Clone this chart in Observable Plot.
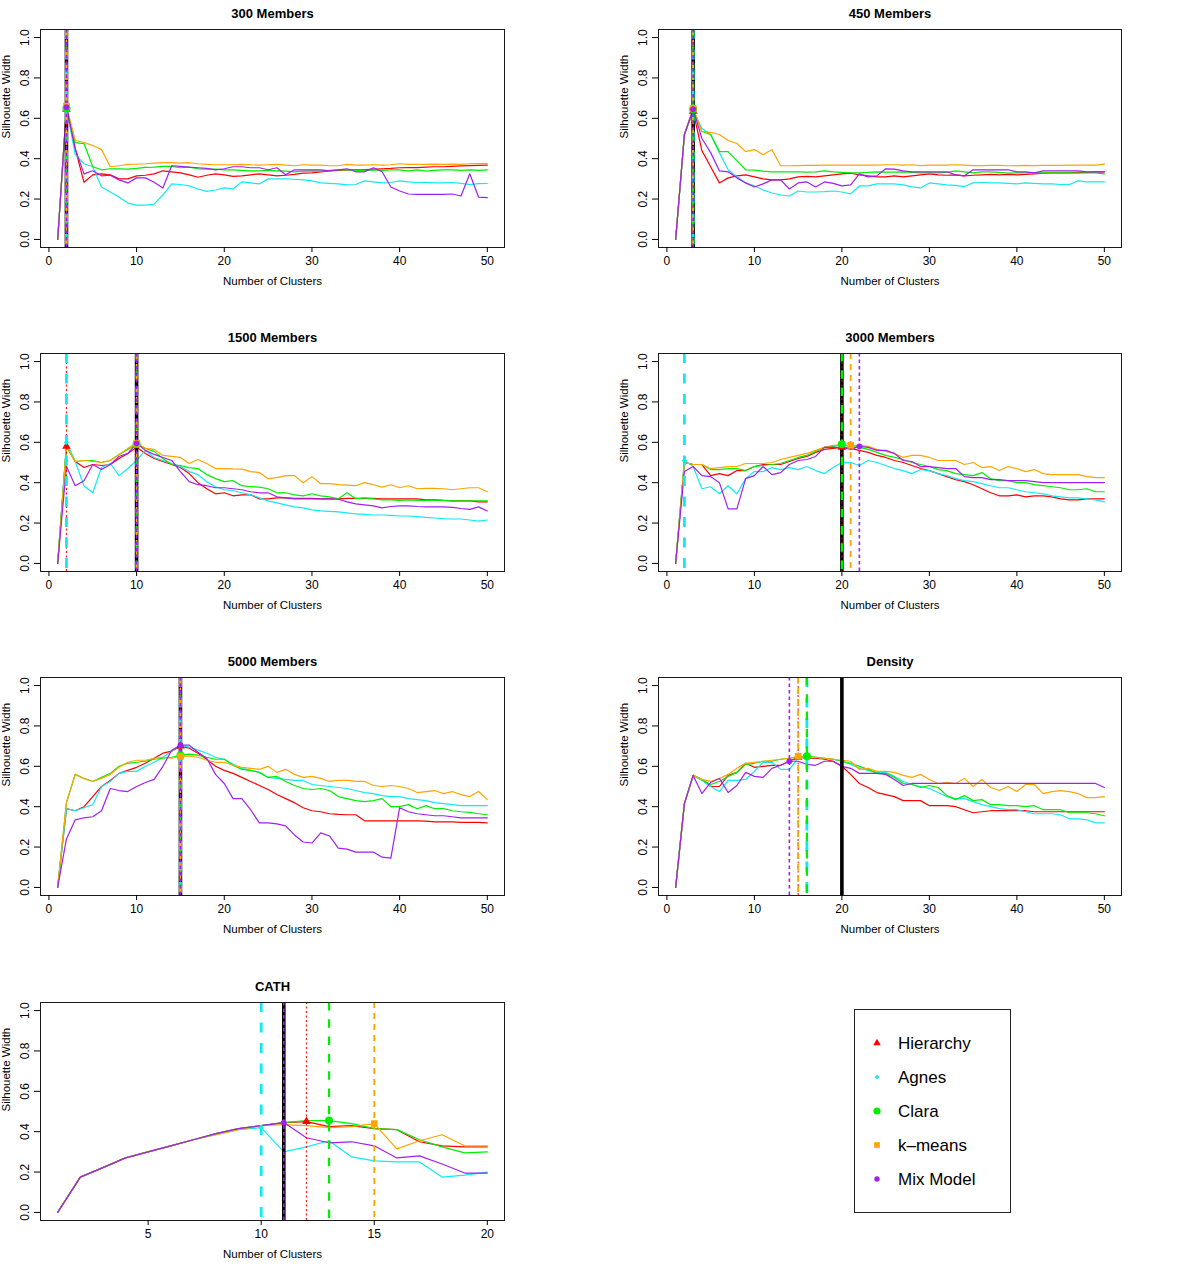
<!DOCTYPE html>
<html><head><meta charset="utf-8">
<script src="https://cdn.jsdelivr.net/npm/d3@7"></script>
<script src="https://cdn.jsdelivr.net/npm/@observablehq/plot@0.6"></script>
<style>
body{margin:0;background:#fff;}
#root{position:relative;width:1200px;height:1264px;font-family:"Liberation Sans",Arial,Helvetica,sans-serif;}
.panel{position:absolute;width:600px;height:324px;}
#legend{position:absolute;left:854px;top:1009px;width:157px;height:204px;border:1px solid #222;box-sizing:border-box;}
</style></head><body><div id="root"></div>
<script>
// ---- categories / styling arrays ----
const methods = ["Hierarchy", "Agnes", "Clara", "k\u2013means", "Mix Model"];
const colors = ["#FF0000", "#10EAF2", "#00EE00", "#FFA500", "#A020F0"];
const symbols = ["triangle", "diamond2", "circle", "square", "circle"];
const yTicks = [0, 0.2, 0.4, 0.6, 0.8, 1.0];
const xTicks50 = [0, 10, 20, 30, 40, 50];
const xTicks20 = [5, 10, 15, 20];
const xLabel = "Number of Clusters";
const yLabel = "Silhouette Width";

// ---- 300 Members ----
const m300_hier = [0,0.645,0.45,0.283,0.32,0.325,0.32,0.3,0.3,0.315,0.318,0.325,0.34,0.335,0.33,0.32,0.308,0.318,0.325,0.32,0.312,0.315,0.32,0.325,0.32,0.315,0.318,0.322,0.328,0.33,0.335,0.34,0.342,0.345,0.345,0.345,0.348,0.35,0.352,0.355,0.356,0.356,0.358,0.36,0.36,0.362,0.364,0.366,0.367,0.368];
const m300_agnes = [0,0.65,0.42,0.375,0.36,0.26,0.235,0.21,0.18,0.17,0.17,0.175,0.22,0.275,0.272,0.265,0.25,0.238,0.245,0.255,0.25,0.285,0.28,0.275,0.3,0.3,0.3,0.298,0.295,0.29,0.28,0.278,0.275,0.27,0.272,0.29,0.285,0.28,0.282,0.29,0.285,0.282,0.283,0.28,0.28,0.282,0.278,0.272,0.276,0.277];
const m300_clara = [0,0.65,0.48,0.475,0.36,0.345,0.35,0.35,0.348,0.352,0.357,0.358,0.362,0.362,0.355,0.358,0.35,0.348,0.348,0.345,0.345,0.342,0.34,0.34,0.342,0.34,0.338,0.335,0.338,0.34,0.338,0.342,0.345,0.345,0.342,0.34,0.345,0.342,0.345,0.345,0.34,0.345,0.338,0.342,0.345,0.345,0.342,0.345,0.342,0.345];
const m300_kmeans = [0,0.66,0.49,0.48,0.465,0.445,0.36,0.365,0.372,0.373,0.375,0.378,0.38,0.38,0.378,0.38,0.375,0.372,0.37,0.37,0.37,0.372,0.37,0.368,0.37,0.372,0.368,0.365,0.37,0.368,0.368,0.365,0.365,0.372,0.368,0.368,0.37,0.368,0.37,0.375,0.372,0.372,0.372,0.373,0.372,0.373,0.372,0.375,0.376,0.377];
const m300_mix = [0,0.655,0.45,0.325,0.34,0.315,0.318,0.295,0.28,0.305,0.305,0.283,0.255,0.365,0.362,0.358,0.355,0.352,0.345,0.35,0.36,0.36,0.355,0.355,0.345,0.355,0.32,0.345,0.345,0.345,0.345,0.34,0.345,0.35,0.335,0.335,0.355,0.335,0.26,0.24,0.225,0.223,0.223,0.223,0.223,0.225,0.215,0.325,0.21,0.207];
const m300_opt = [2, 2, 2, 2, 2];
const m300_true = 2;

// ---- 450 Members ----
const m450_hier = [0,0.52,0.635,0.44,0.36,0.28,0.305,0.315,0.32,0.31,0.3,0.295,0.295,0.3,0.31,0.312,0.31,0.315,0.32,0.325,0.328,0.32,0.315,0.31,0.31,0.315,0.31,0.315,0.32,0.325,0.32,0.318,0.32,0.315,0.318,0.32,0.322,0.32,0.322,0.32,0.322,0.325,0.328,0.33,0.33,0.33,0.332,0.332,0.335,0.335];
const m450_agnes = [0,0.52,0.64,0.55,0.52,0.43,0.345,0.31,0.28,0.265,0.245,0.23,0.22,0.215,0.24,0.235,0.235,0.237,0.24,0.235,0.225,0.265,0.265,0.275,0.275,0.275,0.27,0.26,0.255,0.28,0.275,0.27,0.268,0.262,0.28,0.282,0.28,0.28,0.278,0.275,0.28,0.278,0.275,0.275,0.272,0.272,0.29,0.285,0.285,0.285];
const m450_clara = [0,0.52,0.645,0.535,0.52,0.435,0.435,0.39,0.345,0.343,0.338,0.335,0.335,0.335,0.335,0.333,0.335,0.34,0.335,0.332,0.33,0.33,0.332,0.335,0.333,0.333,0.335,0.332,0.33,0.33,0.33,0.332,0.34,0.335,0.33,0.335,0.335,0.332,0.328,0.33,0.33,0.33,0.33,0.33,0.33,0.33,0.328,0.33,0.33,0.325];
const m450_kmeans = [0,0.52,0.65,0.535,0.53,0.52,0.49,0.475,0.435,0.445,0.42,0.445,0.365,0.365,0.366,0.367,0.367,0.368,0.368,0.368,0.368,0.368,0.368,0.368,0.37,0.37,0.368,0.37,0.366,0.368,0.368,0.368,0.37,0.368,0.366,0.366,0.367,0.367,0.365,0.366,0.367,0.366,0.367,0.367,0.367,0.368,0.368,0.368,0.368,0.373];
const m450_mix = [0,0.52,0.645,0.5,0.43,0.34,0.335,0.305,0.28,0.26,0.275,0.295,0.295,0.25,0.28,0.285,0.26,0.285,0.278,0.265,0.27,0.325,0.31,0.315,0.35,0.348,0.34,0.335,0.335,0.335,0.335,0.335,0.32,0.315,0.345,0.345,0.345,0.345,0.345,0.335,0.335,0.33,0.34,0.34,0.34,0.34,0.34,0.335,0.335,0.335];
const m450_opt = [3, 3, 3, 3, 3];
const m450_true = 3;

// ---- 1500 Members ----
const m1500_hier = [0,0.58,0.505,0.475,0.49,0.485,0.49,0.52,0.545,0.575,0.545,0.52,0.505,0.49,0.475,0.445,0.4,0.37,0.345,0.35,0.335,0.34,0.34,0.32,0.32,0.325,0.325,0.322,0.322,0.322,0.32,0.32,0.32,0.322,0.322,0.322,0.322,0.32,0.32,0.32,0.32,0.32,0.315,0.315,0.312,0.31,0.31,0.31,0.305,0.305];
const m1500_agnes = [0,0.6,0.505,0.385,0.35,0.475,0.495,0.435,0.47,0.51,0.56,0.525,0.51,0.495,0.48,0.455,0.44,0.405,0.38,0.365,0.36,0.35,0.34,0.325,0.31,0.3,0.29,0.28,0.275,0.265,0.26,0.258,0.255,0.25,0.245,0.243,0.24,0.24,0.238,0.235,0.235,0.232,0.228,0.225,0.222,0.22,0.22,0.215,0.21,0.215];
const m1500_clara = [0,0.58,0.505,0.51,0.51,0.5,0.51,0.54,0.565,0.59,0.57,0.555,0.52,0.49,0.485,0.475,0.47,0.44,0.42,0.405,0.41,0.385,0.38,0.378,0.37,0.35,0.35,0.34,0.335,0.345,0.335,0.33,0.32,0.35,0.32,0.325,0.32,0.315,0.315,0.312,0.315,0.312,0.312,0.312,0.312,0.31,0.31,0.31,0.31,0.31];
const m1500_kmeans = [0,0.58,0.505,0.51,0.505,0.5,0.51,0.54,0.57,0.595,0.57,0.565,0.535,0.53,0.525,0.495,0.515,0.495,0.47,0.47,0.468,0.467,0.455,0.45,0.42,0.425,0.435,0.435,0.4,0.43,0.395,0.395,0.39,0.388,0.385,0.4,0.39,0.378,0.39,0.375,0.385,0.37,0.372,0.372,0.37,0.365,0.37,0.375,0.375,0.355];
const m1500_mix = [0,0.48,0.385,0.41,0.49,0.465,0.49,0.53,0.545,0.595,0.56,0.54,0.525,0.51,0.455,0.405,0.39,0.385,0.375,0.375,0.37,0.365,0.355,0.35,0.35,0.33,0.325,0.32,0.32,0.32,0.32,0.32,0.318,0.305,0.295,0.29,0.285,0.275,0.282,0.285,0.285,0.282,0.28,0.28,0.28,0.278,0.272,0.268,0.28,0.26];
const m1500_opt = [2, 2, 10, 10, 10];
const m1500_true = 10;

// ---- 3000 Members ----
const m3000_hier = [0,0.5,0.49,0.49,0.435,0.445,0.435,0.46,0.46,0.48,0.49,0.49,0.49,0.505,0.52,0.53,0.55,0.565,0.57,0.575,0.57,0.56,0.55,0.535,0.525,0.51,0.5,0.485,0.47,0.46,0.445,0.43,0.415,0.405,0.39,0.37,0.35,0.335,0.335,0.34,0.33,0.335,0.335,0.33,0.32,0.315,0.315,0.32,0.32,0.32];
const m3000_agnes = [0,0.51,0.48,0.37,0.38,0.345,0.385,0.345,0.42,0.455,0.455,0.475,0.465,0.475,0.465,0.48,0.46,0.445,0.475,0.5,0.5,0.485,0.51,0.5,0.485,0.47,0.46,0.445,0.465,0.46,0.445,0.435,0.42,0.41,0.405,0.395,0.385,0.375,0.375,0.365,0.355,0.35,0.345,0.335,0.33,0.325,0.325,0.32,0.315,0.305];
const m3000_clara = [0,0.5,0.49,0.49,0.465,0.465,0.47,0.47,0.46,0.48,0.485,0.49,0.495,0.51,0.525,0.535,0.555,0.575,0.58,0.59,0.58,0.575,0.565,0.55,0.535,0.525,0.515,0.5,0.49,0.48,0.465,0.46,0.445,0.44,0.435,0.45,0.42,0.41,0.41,0.4,0.4,0.39,0.385,0.38,0.375,0.365,0.365,0.37,0.355,0.355];
const m3000_kmeans = [0,0.5,0.49,0.49,0.47,0.475,0.48,0.48,0.495,0.495,0.495,0.5,0.515,0.525,0.535,0.545,0.56,0.575,0.585,0.585,0.585,0.585,0.58,0.565,0.555,0.545,0.525,0.535,0.535,0.525,0.51,0.51,0.51,0.49,0.5,0.475,0.48,0.46,0.48,0.47,0.455,0.465,0.445,0.44,0.44,0.44,0.44,0.43,0.425,0.425];
const m3000_mix = [0,0.455,0.48,0.435,0.43,0.4,0.27,0.27,0.42,0.435,0.48,0.44,0.45,0.49,0.51,0.515,0.53,0.575,0.575,0.575,0.565,0.58,0.575,0.56,0.56,0.545,0.51,0.505,0.48,0.48,0.475,0.47,0.47,0.43,0.425,0.425,0.415,0.415,0.41,0.41,0.41,0.405,0.4,0.4,0.4,0.4,0.4,0.4,0.4,0.4];
const m3000_opt = [20, 2, 20, 21, 22];
const m3000_true = 20;

// ---- 5000 Members ----
const m5000_hier = [0,0.39,0.38,0.4,0.45,0.5,0.53,0.565,0.58,0.595,0.615,0.64,0.665,0.675,0.7,0.69,0.665,0.635,0.6,0.58,0.565,0.545,0.525,0.505,0.485,0.46,0.44,0.42,0.395,0.38,0.375,0.365,0.362,0.36,0.36,0.33,0.33,0.33,0.33,0.33,0.33,0.33,0.328,0.325,0.325,0.325,0.322,0.322,0.322,0.32];
const m5000_agnes = [0,0.39,0.38,0.395,0.41,0.5,0.525,0.565,0.575,0.575,0.6,0.62,0.645,0.675,0.705,0.695,0.68,0.665,0.645,0.635,0.61,0.59,0.58,0.57,0.545,0.54,0.535,0.53,0.53,0.51,0.505,0.5,0.495,0.49,0.48,0.47,0.465,0.455,0.45,0.45,0.44,0.435,0.43,0.42,0.415,0.41,0.405,0.405,0.405,0.405];
const m5000_clara = [0,0.42,0.56,0.54,0.525,0.545,0.565,0.6,0.615,0.62,0.625,0.635,0.64,0.645,0.655,0.66,0.655,0.645,0.635,0.635,0.605,0.585,0.58,0.57,0.545,0.55,0.525,0.505,0.49,0.485,0.49,0.48,0.45,0.44,0.43,0.425,0.43,0.44,0.4,0.4,0.41,0.39,0.405,0.39,0.39,0.38,0.375,0.372,0.365,0.36];
const m5000_kmeans = [0,0.42,0.56,0.54,0.525,0.54,0.56,0.595,0.62,0.63,0.63,0.64,0.645,0.64,0.65,0.65,0.645,0.63,0.62,0.62,0.605,0.595,0.59,0.585,0.6,0.57,0.585,0.56,0.545,0.55,0.54,0.525,0.53,0.53,0.525,0.525,0.505,0.5,0.505,0.5,0.49,0.47,0.475,0.48,0.465,0.475,0.46,0.45,0.475,0.435];
const m5000_mix = [0,0.24,0.335,0.345,0.35,0.38,0.49,0.48,0.475,0.5,0.52,0.535,0.6,0.68,0.705,0.705,0.67,0.64,0.56,0.515,0.44,0.44,0.385,0.32,0.32,0.315,0.305,0.26,0.225,0.22,0.27,0.255,0.195,0.19,0.175,0.175,0.175,0.15,0.145,0.395,0.375,0.365,0.36,0.355,0.355,0.35,0.345,0.345,0.345,0.345];
const m5000_opt = [15, 15, 15, 15, 15];
const m5000_true = 15;

// ---- Density ----
const dens_hier = [0,0.415,0.555,0.535,0.5,0.5,0.555,0.57,0.615,0.595,0.6,0.605,0.605,0.625,0.645,0.64,0.64,0.635,0.625,0.6,0.56,0.515,0.495,0.47,0.46,0.45,0.43,0.43,0.43,0.405,0.405,0.405,0.4,0.385,0.37,0.375,0.38,0.38,0.38,0.38,0.38,0.375,0.375,0.375,0.375,0.375,0.375,0.375,0.375,0.375];
const dens_agnes = [0,0.415,0.555,0.53,0.5,0.475,0.53,0.53,0.535,0.575,0.62,0.62,0.585,0.585,0.64,0.65,0.645,0.64,0.635,0.625,0.61,0.59,0.58,0.57,0.57,0.55,0.525,0.51,0.5,0.49,0.47,0.45,0.44,0.44,0.425,0.41,0.4,0.39,0.385,0.385,0.375,0.365,0.365,0.365,0.36,0.34,0.34,0.335,0.32,0.32];
const dens_clara = [0,0.415,0.555,0.535,0.51,0.525,0.55,0.57,0.61,0.615,0.625,0.625,0.635,0.64,0.645,0.65,0.645,0.64,0.635,0.625,0.615,0.6,0.585,0.565,0.565,0.545,0.515,0.51,0.495,0.505,0.495,0.455,0.435,0.455,0.43,0.435,0.41,0.41,0.405,0.405,0.4,0.405,0.385,0.385,0.385,0.37,0.37,0.37,0.365,0.355];
const dens_kmeans = [0,0.415,0.555,0.535,0.525,0.54,0.56,0.59,0.615,0.62,0.625,0.63,0.635,0.64,0.65,0.645,0.645,0.64,0.635,0.63,0.625,0.585,0.59,0.575,0.575,0.57,0.555,0.545,0.56,0.535,0.515,0.52,0.515,0.54,0.5,0.535,0.495,0.48,0.5,0.475,0.51,0.51,0.465,0.475,0.48,0.475,0.465,0.445,0.445,0.45];
const dens_mix = [0,0.415,0.555,0.465,0.52,0.54,0.47,0.505,0.57,0.55,0.545,0.59,0.605,0.625,0.625,0.61,0.605,0.625,0.625,0.6,0.59,0.565,0.565,0.565,0.56,0.535,0.505,0.515,0.515,0.515,0.515,0.515,0.515,0.515,0.515,0.515,0.515,0.515,0.515,0.515,0.515,0.515,0.515,0.515,0.515,0.515,0.515,0.515,0.515,0.495];
const dens_opt = [15, 16, 16, 15, 14];
const dens_true = 20;

// ---- CATH ----
const cath_hier = [0,0.175,0.222,0.27,0.3,0.33,0.36,0.39,0.415,0.43,0.445,0.45,0.425,0.43,0.415,0.41,0.35,0.33,0.325,0.325];
const cath_agnes = [0,0.175,0.222,0.27,0.3,0.33,0.36,0.385,0.41,0.42,0.3,0.325,0.355,0.275,0.255,0.25,0.25,0.175,0.185,0.2];
const cath_clara = [0,0.175,0.222,0.27,0.3,0.33,0.36,0.39,0.415,0.43,0.445,0.455,0.455,0.44,0.415,0.41,0.36,0.325,0.295,0.3];
const cath_kmeans = [0,0.175,0.222,0.27,0.3,0.33,0.36,0.385,0.41,0.43,0.435,0.43,0.42,0.425,0.44,0.315,0.355,0.385,0.33,0.33];
const cath_mix = [0,0.175,0.222,0.27,0.3,0.33,0.36,0.39,0.415,0.43,0.445,0.37,0.345,0.35,0.33,0.27,0.28,0.24,0.195,0.195];
const cath_opt = [12, 10, 13, 15, 11];
const cath_true = 11;

// ---- assemble ----
const panels = [
  {title: "300 Members", series: [m300_hier, m300_agnes, m300_clara, m300_kmeans, m300_mix], opt: m300_opt, trueK: m300_true, xTicks: xTicks50, col: 0, row: 0},
  {title: "450 Members", series: [m450_hier, m450_agnes, m450_clara, m450_kmeans, m450_mix], opt: m450_opt, trueK: m450_true, xTicks: xTicks50, col: 1, row: 0},
  {title: "1500 Members", series: [m1500_hier, m1500_agnes, m1500_clara, m1500_kmeans, m1500_mix], opt: m1500_opt, trueK: m1500_true, xTicks: xTicks50, col: 0, row: 1},
  {title: "3000 Members", series: [m3000_hier, m3000_agnes, m3000_clara, m3000_kmeans, m3000_mix], opt: m3000_opt, trueK: m3000_true, xTicks: xTicks50, col: 1, row: 1},
  {title: "5000 Members", series: [m5000_hier, m5000_agnes, m5000_clara, m5000_kmeans, m5000_mix], opt: m5000_opt, trueK: m5000_true, xTicks: xTicks50, col: 0, row: 2},
  {title: "Density", series: [dens_hier, dens_agnes, dens_clara, dens_kmeans, dens_mix], opt: dens_opt, trueK: dens_true, xTicks: xTicks50, col: 1, row: 2},
  {title: "CATH", series: [cath_hier, cath_agnes, cath_clara, cath_kmeans, cath_mix], opt: cath_opt, trueK: cath_true, xTicks: xTicks20, col: 0, row: 3}
];

const ruleW = [1, 2.8, 2.3, 1.8, 1.6];
const ruleDash = ["2,2.5", "10,10.5", "8.5,8.8", "6,5", "3.5,3"];
const dotR = [3.2, 2.4, 4, 3.8, 2.9];
const legR = [2.8, 2.1, 3.6, 3.2, 2.7];
const rowTops = [0, 324, 648, 973];
const FONT = "'Liberation Sans', Arial, Helvetica, sans-serif";

const root = document.getElementById("root");

for (const p of panels) {
  const n = p.series[0].length;
  const pad = (n - 1) * 0.04;
  const ml = p.col === 0 ? 40 : 58;
  const mr = p.col === 0 ? 96 : 79;
  const marks = [];
  p.series.forEach((vals, i) => {
    marks.push(Plot.line(vals.map((v, j) => ({k: j + 1, v})), {x: "k", y: "v", stroke: colors[i], strokeWidth: 1.2}));
  });
  marks.push(Plot.ruleX([p.trueK], {stroke: "black", strokeWidth: 3.6}));
  p.opt.forEach((k, i) => {
    marks.push(Plot.ruleX([k], {stroke: colors[i], strokeWidth: ruleW[i], strokeDasharray: ruleDash[i]}));
  });
  p.opt.forEach((k, i) => {
    marks.push(Plot.dot([{k, v: p.series[i][k - 1]}], {x: "k", y: "v", symbol: symbols[i], fill: colors[i], stroke: "none", r: dotR[i]}));
  });
  marks.push(Plot.frame({stroke: "#1a1a1a", strokeWidth: 1}));
  marks.push(Plot.axisY(yTicks, {tickSize: 6, tickFormat: () => "", label: null}));
  marks.push(Plot.text(yTicks, {y: d => d, text: d => d.toFixed(1), frameAnchor: "left", dx: -15, rotate: -90, textAnchor: "middle", lineAnchor: "middle", fontSize: 12}));
  marks.push(Plot.axisX(p.xTicks, {tickSize: 5, tickPadding: 4, label: null, fontSize: 12}));
  marks.push(Plot.text([yLabel], {frameAnchor: "left", dx: -34, rotate: -90, fontSize: 11.5}));
  marks.push(Plot.text([xLabel], {frameAnchor: "bottom", dy: 37, fontSize: 11.5}));
  marks.push(Plot.text([p.title], {frameAnchor: "top", dy: -21, fontSize: 13, fontWeight: "bold"}));

  const chart = Plot.plot({
    width: 600,
    height: 324,
    marginLeft: ml,
    marginRight: mr,
    marginTop: 29,
    marginBottom: 324 - 29 - 218,
    x: {domain: [1 - pad, n + pad]},
    y: {domain: [-0.04, 1.04]},
    style: `font-family: ${FONT}; font-size: 12px; color: black; background: transparent; overflow: visible;`,
    marks
  });
  const div = document.createElement("div");
  div.className = "panel";
  div.style.left = (p.col * 600) + "px";
  div.style.top = rowTops[p.row] + "px";
  div.appendChild(chart);
  root.appendChild(div);
}

// ---- legend ----
const legend = document.createElement("div");
legend.id = "legend";
root.appendChild(legend);
const lsvg = d3.select(legend).append("svg").attr("width", 155).attr("height", 202)
  .style("font-family", FONT);
const symMap = {triangle: d3.symbolTriangle, diamond2: d3.symbolDiamond2 || d3.symbolDiamond, circle: d3.symbolCircle, square: d3.symbolSquare};
methods.forEach((m, i) => {
  const cy = 33 + 34 * i;
  lsvg.append("path")
    .attr("d", d3.symbol(symMap[symbols[i]], Math.PI * legR[i] * legR[i])())
    .attr("transform", `translate(22,${cy})`)
    .attr("fill", colors[i]);
  lsvg.append("text").attr("x", 43).attr("y", cy).attr("dy", "0.35em")
    .attr("font-size", 17).attr("fill", "black").text(m);
});
</script></body></html>
